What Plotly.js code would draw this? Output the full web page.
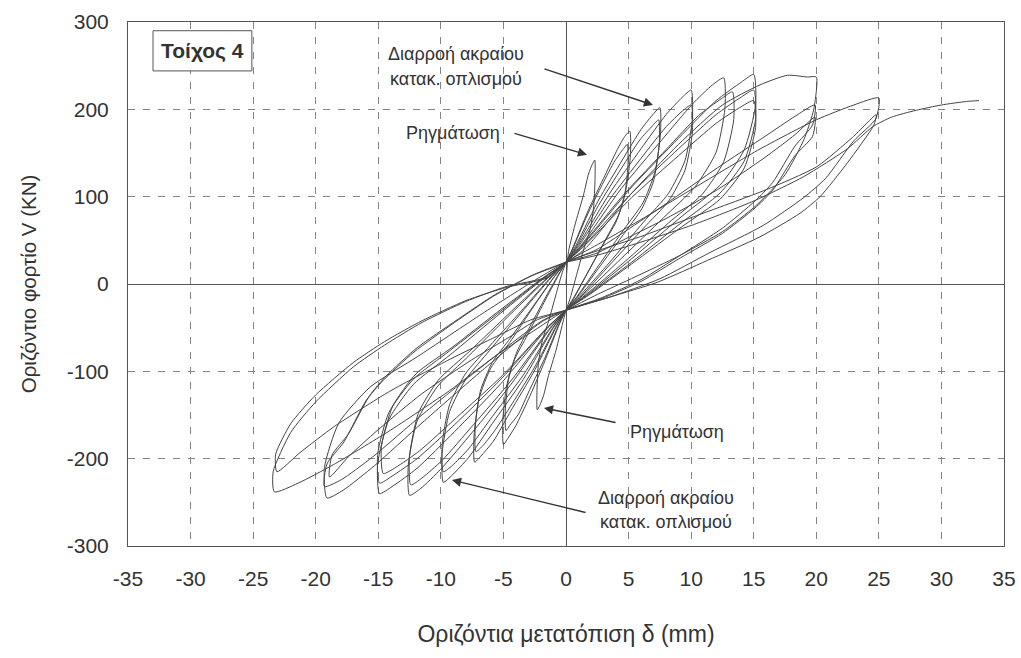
<!DOCTYPE html>
<html>
<head>
<meta charset="utf-8">
<script src="https://cdn.plot.ly/plotly-3.0.1.min.js"></script>
<style>html,body{margin:0;padding:0;background:#fff;}#chart{width:1021px;height:658px;}</style>
</head>
<body>
<div id="chart"></div>
<script>
// Displacement δ (mm) and horizontal load V (kN), grouped by cycle amplitude
const cyc2_5_disp = [0, 0.2, 0.8, 1.4, 1.8, 2.1, 2.3, 2.32, 2.2, 1.9, 1.4, 0.8, 0.3, 0, -0.2, -0.8, -1.4, -1.8, -2.1, -2.3, -2.32, -2.2, -1.9, -1.4, -0.8, -0.3, 0];
const cyc2_5_load = [0, 37, 72, 102, 126, 137, 142, 120, 87, 61, 39, 8, -18, -30, -41, -76, -105, -128, -139, -144, -122, -90, -65, -43, -12, 13, 25];

const cyc5_disp = [0,
  0.5, 1.8, 3.1, 4.1, 4.7, 5.1, 5.15, 4.8, 4.2, 3.2, 1.8, 0.6, 0, -0.5, -1.8, -3.0, -4.0, -4.7, -5.0, -5.05, -4.75, -4.1, -3.1, -1.75, -0.6, 0,
  0.5, 1.7, 2.9, 3.9, 4.6, 4.9, 4.95, 4.65, 4.0, 3.0, 1.7, 0.6, 0, -0.5, -1.7, -2.9, -3.8, -4.5, -4.8, -4.85, -4.55, -3.9, -3.0, -1.7, -0.6, 0];
const cyc5_load = [25,
  40, 85, 124, 154, 169, 175, 148, 109, 79, 52, 15, -16, -30, -45, -92, -132, -162, -178, -184, -157, -117, -86, -59, -21, 10, 25,
  39, 79, 114, 141, 155, 160, 135, 99, 71, 46, 12, -17, -30, -44, -85, -121, -149, -162, -168, -143, -106, -77, -52, -17, 11, 25];

const cyc7_5_disp = [0,
  0.75, 2.6, 4.5, 6.0, 7.0, 7.5, 7.55, 7.1, 6.15, 4.65, 2.6, 0.9, 0, -0.7, -2.55, -4.4, -5.8, -6.8, -7.3, -7.35, -6.95, -6.0, -4.5, -2.55, -0.9, 0,
  0.75, 2.6, 4.45, 5.9, 6.9, 7.4, 7.45, 7.0, 6.05, 4.6, 2.6, 0.9, 0, -0.7, -2.5, -4.3, -5.75, -6.7, -7.2, -7.25, -6.85, -5.9, -4.45, -2.5, -0.85, 0];
const cyc7_5_load = [25,
  43, 96, 142, 177, 195, 202, 172, 128, 93, 63, 21, -14, -30, -47, -100, -145, -180, -197, -204, -174, -131, -96, -67, -25, 9, 25,
  41, 90, 133, 165, 181, 188, 160, 118, 86, 57, 18, -15, -30, -46, -95, -137, -169, -186, -192, -164, -123, -90, -62, -23, 10, 25];

const cyc10_disp = [0,
  1.0, 3.5, 6.0, 8.0, 9.3, 10, 10.1, 9.5, 8.2, 6.2, 3.5, 1.2, 0, -1.0, -3.4, -5.9, -7.8, -9.1, -9.8, -9.9, -9.3, -8.0, -6.1, -3.4, -1.2, 0,
  1.0, 3.5, 6.0, 8.0, 9.3, 10, 10.1, 9.5, 8.2, 6.2, 3.5, 1.2, 0, -1.0, -3.4, -5.9, -7.8, -9.1, -9.8, -9.9, -9.3, -8.0, -6.1, -3.4, -1.2, 0];
const cyc10_load = [25,
  45, 104, 155, 194, 214, 222, 189, 141, 104, 71, 25, -12, -30, -50, -109, -160, -199, -219, -227, -194, -146, -109, -76, -30, 7, 25,
  43, 97, 144, 180, 198, 205, 174, 130, 95, 64, 22, -14, -30, -49, -104, -152, -189, -208, -215, -184, -138, -102, -71, -28, 8, 25];

const cyc12_5_disp = [0,
  1.3, 4.4, 7.6, 10.1, 11.7, 12.6, 12.7, 12.0, 10.3, 7.8, 4.4, 1.5, 0, -1.25, -4.4, -7.5, -10.0, -11.6, -12.5, -12.6, -11.9, -10.25, -7.75, -4.4, -1.5, 0,
  1.3, 4.65, 8.0, 10.6, 12.4, 13.3, 13.4, 12.6, 10.9, 8.2, 4.65, 1.6, 0, -1.25, -4.35, -7.45, -9.9, -11.5, -12.4, -12.5, -11.8, -10.2, -7.7, -4.35, -1.5, 0];
const cyc12_5_load = [25,
  46, 109, 164, 206, 228, 236, 201, 151, 111, 76, 29, -11, -30, -51, -115, -170, -212, -234, -242, -207, -157, -117, -82, -34, 6, 25,
  45, 103, 154, 193, 212, 220, 188, 140, 103, 70, 25, -12, -30, -50, -110, -162, -202, -222, -230, -197, -148, -110, -77, -31, 7, 25];

const cyc15_disp = [0,
  1.5, 5.25, 9.0, 12.0, 14.0, 15, 15.15, 14.25, 12.3, 9.3, 5.25, 1.8, 0, -1.5, -5.2, -8.9, -11.9, -13.9, -14.9, -15.05, -14.15, -12.2, -9.25, -5.2, -1.8, 0,
  1.5, 5.25, 9.0, 12.0, 14.0, 15, 15.15, 14.25, 12.3, 9.3, 5.25, 1.8, 0, -1.5, -5.2, -8.9, -11.9, -13.9, -14.9, -15.05, -14.15, -12.2, -9.25, -5.2, -1.8, 0,
  1.5, 5.25, 9.0, 12.0, 14.0, 15, 15.15, 14.25, 12.3, 9.3, 5.25, 1.8, 0, -1.45, -5.1, -8.75, -11.7, -13.6, -14.6, -14.75, -13.85, -12.0, -9.05, -5.1, -1.75, 0];
const cyc15_load = [25,
  47, 111, 167, 210, 231, 240, 205, 154, 113, 78, 29, -11, -30, -51, -114, -169, -211, -232, -240, -206, -155, -115, -81, -33, 6, 25,
  45, 104, 155, 194, 214, 222, 189, 141, 104, 71, 25, -12, -30, -50, -109, -161, -200, -220, -228, -195, -147, -109, -76, -31, 7, 25,
  44, 99, 147, 184, 203, 210, 179, 133, 97, 66, 23, -13, -30, -49, -105, -153, -191, -210, -217, -186, -140, -103, -72, -28, 8, 25];

const cyc20_disp = [0,
  1.5, 5, 9, 12.5, 15.5, 17.7, 19.3, 20, 19.8, 19.0, 17.5, 15.2, 12.5, 9.0, 5.5, 2.5, 0, -1.9, -6.7, -11.5, -15.3, -17.8, -19.1, -19.3, -18.15, -15.65, -11.85, -6.7, -2.3, 0,
  2.4, 4.8, 8.0, 12.1, 15.9, 18.3, 19.9, 19.7, 18.3, 16.5, 15.1, 12.5, 9.15, 6.0, 2.8, 0, -1.9, -6.75, -11.6, -15.45, -17.95, -19.3, -19.1, -17.75, -16.0, -14.65, -12.15, -8.9, -5.8, -2.7, 0,
  2.4, 4.8, 8.0, 12.1, 15.9, 18.3, 19.9, 19.7, 18.3, 16.5, 15.1, 12.5, 9.15, 6.0, 2.8, 0, -2.3, -4.55, -7.55, -11.55, -15.1, -17.4, -18.9, -18.7, -17.4, -15.7, -14.35, -11.9, -8.7, -5.65, -2.65, 0];
const cyc20_load = [25,
  40, 100, 160, 205, 228, 239, 237, 237, 200, 165, 125, 90, 60, 32, 8, -12, -30, -43, -99, -159, -208, -236, -245, -210, -159, -118, -83, -34, 6, 25,
  39, 61, 92, 133, 169, 192, 205, 182, 158, 116, 95, 64, 33, 5, -16, -30, -42, -95, -151, -198, -224, -232, -206, -181, -134, -111, -78, -44, -14, 10, 25,
  35, 52, 75, 108, 145, 171, 191, 169, 147, 107, 87, 58, 30, 3, -17, -30, -41, -61, -87, -126, -168, -198, -221, -196, -172, -128, -105, -73, -41, -12, 10, 25];

const cyc25_disp = [0,
  2.5, 5.9, 10, 15.3, 20, 23, 25, 24.75, 23.0, 20.75, 19.0, 15.75, 11.5, 7.5, 3.5, 0, -2.3, -5.6, -9.3, -14.2, -18.6, -21.4, -23.3, -23.4, -22.0, -20.0, -17.0, -14.5, -11.5, -8.0, -4.8, -1.5, 0,
  2.5, 5.9, 10.2, 16, 20, 22.9, 24.8, 24.6, 22.5, 20.3, 18.7, 15.5, 11.3, 7.3, 3.5, 0, -2.8, -5.55, -9.25, -14.1, -18.5, -21.25, -23.1, -23.2, -22.0, -20.0, -17.0, -14.5, -11.5, -8.0, -4.8, -1.5, 0];
const cyc25_load = [25,
  45, 73, 108, 153, 188, 205, 213, 189, 164, 121, 99, 67, 36, 6, -15, -30, -51, -82, -122, -169, -207, -228, -238, -215, -170, -135, -95, -70, -44, -20, -3, 8, 25,
  38, 54, 77, 108, 134, 168, 194, 182, 139, 100, 81, 54, 27, 2, -15, -30, -41, -60, -86, -123, -163, -193, -215, -195, -160, -127, -90, -66, -42, -19, -4, 7, 25];

const final_disp = [0, 2.5, 6, 10.2, 15, 19, 22.5, 24.5, 26, 28, 30, 32, 33];
const final_load = [25, 33, 48, 68, 95, 123, 155, 180, 191, 199, 205, 209, 210];

const xTickVals = [-35, -30, -25, -20, -15, -10, -5, 0, 5, 10, 15, 20, 25, 30, 35];
const yTickVals = [-300, -200, -100, 0, 100, 200, 300];

const groups = [
  [cyc2_5_disp, cyc2_5_load], [cyc5_disp, cyc5_load], [cyc7_5_disp, cyc7_5_load],
  [cyc10_disp, cyc10_load], [cyc12_5_disp, cyc12_5_load], [cyc15_disp, cyc15_load],
  [cyc20_disp, cyc20_load], [cyc25_disp, cyc25_load], [final_disp, final_load]
];

const lineColor = '#454545';
const traces = groups.map(g => ({
  type: 'scatter', mode: 'lines', x: g[0], y: g[1],
  line: {color: lineColor, width: 1, shape: 'spline', smoothing: 0.6}, hoverinfo: 'skip', showlegend: false
}));

const textFont = {family: 'Liberation Sans, Arial, sans-serif', size: 18, color: '#333'};
const arrowBase = {showarrow: true, text: '', axref: 'x', ayref: 'y', arrowhead: 2, arrowsize: 1.3, arrowwidth: 1.4, arrowcolor: '#333'};

const layout = {
  width: 1021, height: 658,
  margin: {l: 128, r: 17, t: 22, b: 112},
  paper_bgcolor: '#ffffff', plot_bgcolor: '#ffffff',
  showlegend: false,
  font: {family: 'Liberation Sans, Arial, sans-serif', color: '#333'},
  xaxis: {
    range: [-35, 35], tickvals: xTickVals, ticktext: xTickVals.map(String),
    showgrid: true, gridcolor: '#858585', gridwidth: 1, griddash: '7px,8px',
    zeroline: true, zerolinecolor: '#555', zerolinewidth: 1,
    showline: true, mirror: true, linecolor: '#555', linewidth: 1,
    ticks: '', tickfont: {size: 21, color: '#333'}, ticklabelstandoff: 14,
    title: {text: 'Οριζόντια μετατόπιση δ (mm)', font: {size: 23, color: '#333'}, standoff: 36}
  },
  yaxis: {
    range: [-300, 300], tickvals: yTickVals, ticktext: yTickVals.map(String),
    showgrid: true, gridcolor: '#858585', gridwidth: 1, griddash: '7px,8px',
    zeroline: true, zerolinecolor: '#555', zerolinewidth: 1,
    showline: true, mirror: true, linecolor: '#555', linewidth: 1,
    ticks: '', tickfont: {size: 21, color: '#333'}, ticklabelstandoff: 14,
    title: {text: 'Οριζόντιο φορτίο V (KN)', font: {size: 20.5, color: '#333'}, standoff: 24}
  },
  shapes: [
    {type: 'rect', xref: 'x', yref: 'y', x0: -33.0, x1: -25.1, y0: 244, y1: 290,
     line: {color: '#555', width: 1}, fillcolor: '#ffffff', layer: 'above'}
  ],
  annotations: [
    {x: -29.05, y: 267, xref: 'x', yref: 'y', text: '<b>Τοίχος 4</b>', showarrow: false,
     font: {family: 'Liberation Sans, Arial, sans-serif', size: 21, color: '#333'}},
    {x: -8.8, y: 263.5, xref: 'x', yref: 'y', text: 'Διαρροή ακραίου', showarrow: false, font: textFont},
    {x: -8.8, y: 235, xref: 'x', yref: 'y', text: 'κατακ. οπλισμού', showarrow: false, font: textFont},
    {x: -9.0, y: 173, xref: 'x', yref: 'y', text: 'Ρηγμάτωση', showarrow: false, font: textFont},
    {x: 8.9, y: -169.5, xref: 'x', yref: 'y', text: 'Ρηγμάτωση', showarrow: false, font: textFont},
    {x: 8.0, y: -245, xref: 'x', yref: 'y', text: 'Διαρροή ακραίου', showarrow: false, font: textFont},
    {x: 8.0, y: -272, xref: 'x', yref: 'y', text: 'κατακ. οπλισμού', showarrow: false, font: textFont},
    Object.assign({}, arrowBase, {x: 6.95, y: 205, ax: -1.84, ay: 247, xref: 'x', yref: 'y'}),
    Object.assign({}, arrowBase, {x: 1.68, y: 148, ax: -4.24, ay: 173, xref: 'x', yref: 'y'}),
    Object.assign({}, arrowBase, {x: -1.76, y: -142, ax: 4.08, ay: -159, xref: 'x', yref: 'y'}),
    Object.assign({}, arrowBase, {x: -9.11, y: -224.5, ax: 1.68, ay: -262, xref: 'x', yref: 'y'})
  ]
};

Plotly.newPlot('chart', traces, layout, {displayModeBar: false, staticPlot: true});
</script>
</body>
</html>
